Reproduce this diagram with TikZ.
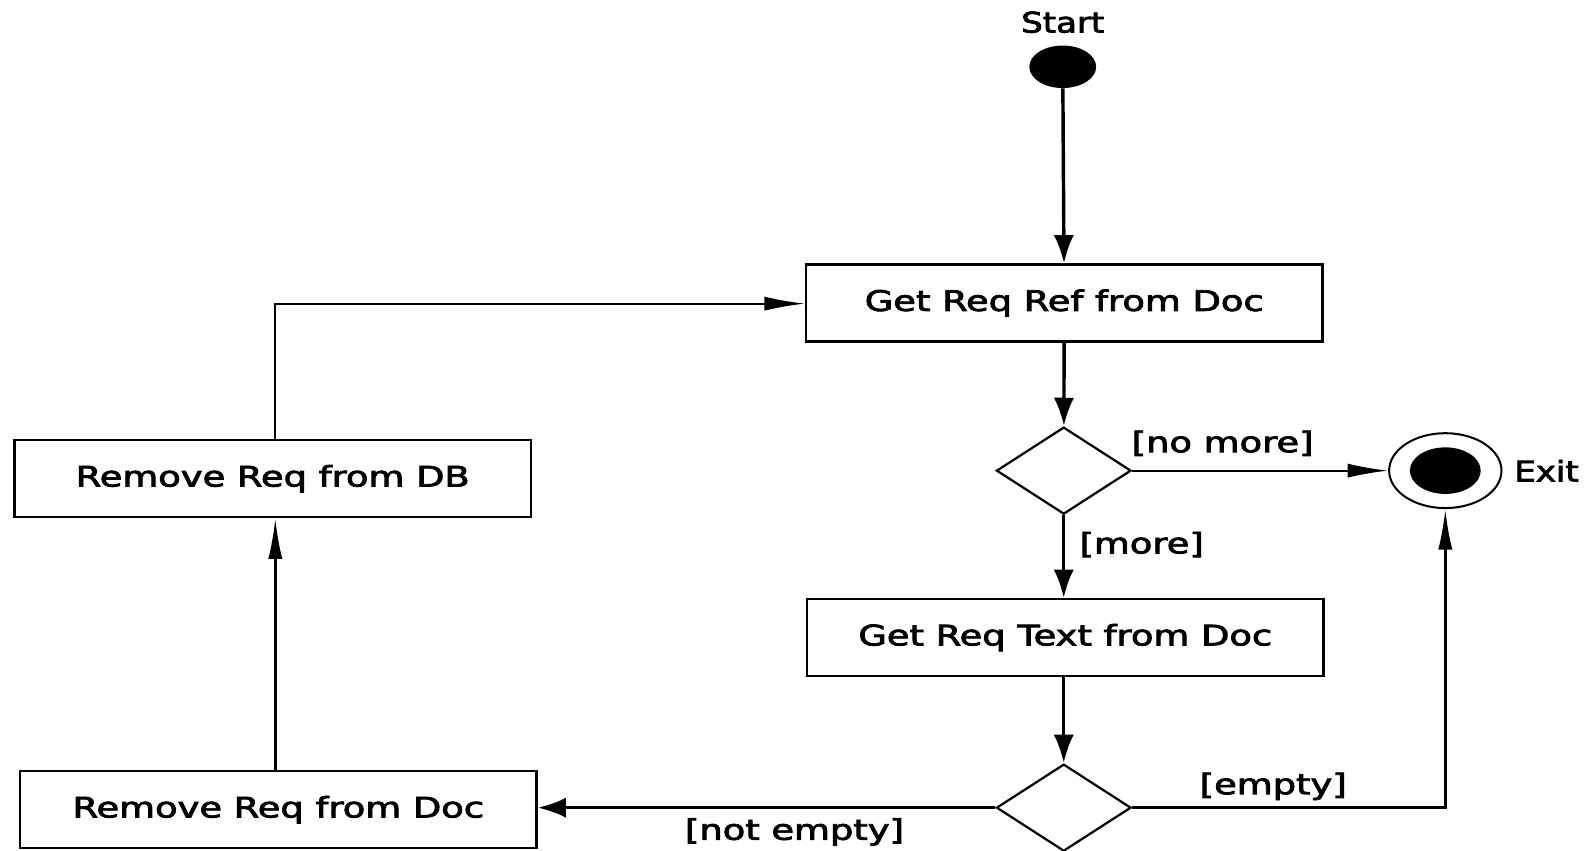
\documentclass[tikz,border=0pt]{standalone}
\usepackage{fontspec}
\newfontfamily\diagfont{DejaVu Sans}[FakeBold=2.5]
\usetikzlibrary{shapes.geometric,arrows.meta}
\newcommand{\wide}[1]{\scalebox{1.3}[1]{#1}}
\newcommand{\widesm}[1]{\scalebox{1.2}[1]{#1}}
\tikzset{
  actbox/.style={draw, line width=1.2pt, minimum width=255pt, minimum height=38pt, inner sep=0pt, font=\diagfont\fontsize{14}{16}\selectfont},
  choice/.style={draw, diamond, line width=1.1pt, minimum width=66.5pt, minimum height=43pt, inner sep=0pt},
  lbl/.style={font=\diagfont\fontsize{14}{16}\selectfont, inner sep=0pt},
  thickflow/.style={line width=1.7pt, -{Latex[length=14pt,width=10pt]}},
  thinflow/.style={line width=1pt, -{Latex[length=20pt,width=7pt]}},
}
\begin{document}
\begin{tikzpicture}[x=0.5pt,y=-0.5pt]
\useasboundingbox (0,0) rectangle (1568,840);
\node[lbl] (startlbl) at (1050,22) {\widesm{Start}};
\node[ellipse, fill, minimum width=33pt, minimum height=21pt, inner sep=0pt] (start) at (1050,66) {};
\node[actbox] (box1) at (1051.5,299.5) {\wide{Get Req Ref from Doc}};
\node[choice] (d1) at (1051,465) {};
\node[ellipse, draw, line width=1pt, minimum width=55.5pt, minimum height=37pt, inner sep=0pt] (exitc) at (1428,465) {};
\node[ellipse, fill, minimum width=35pt, minimum height=23pt, inner sep=0pt] (exitin) at (1428,465) {};
\node[lbl] (exitlbl) at (1528,465) {\widesm{Exit}};
\node[actbox] (box2) at (1052.5,630) {\wide{Get Req Text from Doc}};
\node[choice] (d2) at (1051,798) {};
\node[actbox] (box3) at (269.5,473) {\wide{Remove Req from DB}};
\node[actbox] (box4) at (275,800) {\wide{Remove Req from Doc}};
\coordinate (lx) at (272,300);
\coordinate (ex) at (1428,798);

\draw[thickflow] (start) -- (box1);
\draw[thickflow] (box1) -- (d1);
\draw[thinflow] (d1.east) -- (exitc.west);
\node[lbl] (nomore) at (1208,438) {\wide{[no more]}};
\draw[thickflow] (d1.south) -- (box2.north -| d1.south);
\node[lbl] (more) at (1128,538) {\wide{[more]}};
\draw[thickflow] (box2.south -| d2.north) -- (d2.north);
\draw[thinflow, line width=1.3pt] (d2.east) -- (ex) -- (exitc.south);
\node[lbl] (empty) at (1258,777) {\wide{[empty]}};
\draw[thickflow] (d2.west) -- (box4.east |- d2.west);
\node[lbl] (notempty) at (785,822) {\wide{[not empty]}};
\draw[thinflow, line width=1.3pt] (lx |- box4.north) -- (lx |- box3.south);
\draw[thinflow] (lx |- box3.north) -- (lx) -- (box1.west |- lx);
\end{tikzpicture}
\end{document}
